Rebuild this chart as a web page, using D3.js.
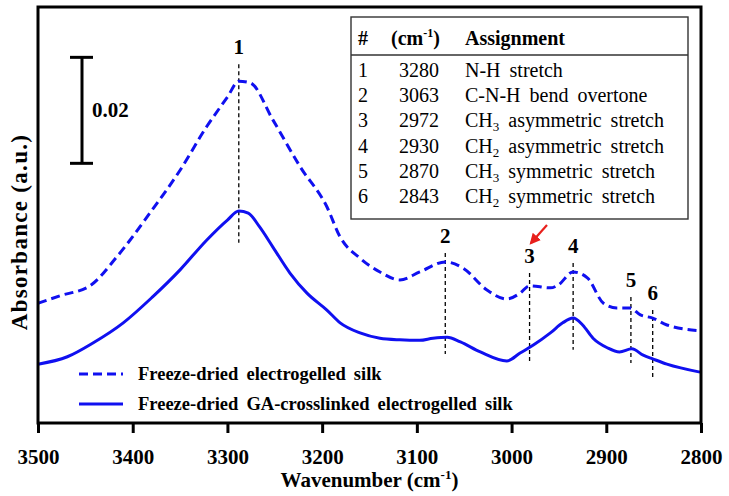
<!DOCTYPE html>
<html><head><meta charset="utf-8">
<script src="https://cdn.jsdelivr.net/npm/d3@7"></script>
<style>html,body{margin:0;padding:0;background:#fff;}</style>
</head>
<body><svg id="c" width="729" height="496" font-family="Liberation Serif"></svg>
<script>
// ---------- data ----------
const dashedWn = [3500,3477,3445,3417,3382,3350,3322,3300,3288,3276,3252,3223,3195,3181,3160,3139,3118,3097,3070,3051,3026,3005,2991,2981,2959,2951,2935,2920,2903,2889,2875,2864,2851,2836,2801];
const dashedAbs = [0.0226,0.0240,0.0259,0.0313,0.0396,0.0477,0.0559,0.0615,0.0645,0.0642,0.0572,0.0483,0.0408,0.0351,0.0311,0.0285,0.0270,0.0285,0.0304,0.0292,0.0251,0.0234,0.0245,0.0259,0.0255,0.0260,0.0285,0.0274,0.0226,0.0217,0.0217,0.0204,0.0198,0.0185,0.0174];
const solidWn = [3500,3469,3442,3410,3379,3350,3322,3300,3288,3278,3266,3252,3234,3216,3195,3181,3160,3139,3118,3097,3083,3068,3054,3033,3005,2991,2977,2959,2946,2935,2925,2914,2899,2886,2873,2861,2851,2836,2801];
const solidAbs = [0.0111,0.0125,0.0151,0.0189,0.0238,0.0289,0.0345,0.0383,0.0400,0.0396,0.0370,0.0332,0.0283,0.0245,0.0213,0.0189,0.0170,0.0160,0.0157,0.0156,0.0160,0.0162,0.0153,0.0134,0.0117,0.0132,0.0147,0.0170,0.0189,0.0198,0.0185,0.0160,0.0142,0.0134,0.0140,0.0128,0.0121,0.0111,0.0096];
const seriesNames = ["Freeze-dried electrogelled silk","Freeze-dried GA-crosslinked electrogelled silk"];
const peakLabels = ["1","2","3","4","5","6"];
const peakWn = [3288,3070,2981,2935,2874,2851];
const peakTop = [0.0677,0.0321,0.0283,0.0302,0.0238,0.0213];
const peakBottom = [0.0340,0.0130,0.0115,0.0138,0.0113,0.0087];
const tableNums = ["1","2","3","4","5","6"];
const tableWn = ["3280","3063","2972","2930","2870","2843"];
const tableAssign = [["N-H stretch"],["C-N-H bend overtone"],["CH","3"," asymmetric stretch"],["CH","2"," asymmetric stretch"],["CH","3"," symmetric stretch"],["CH","2"," symmetric stretch"]];
const xTicks = [3500,3400,3300,3200,3100,3000,2900,2800];
const scaleBarBase = 0.049, scaleBarSize = 0.02;

// ---------- chart ----------
const FONT = "Liberation Serif";
const svg = d3.select("#c");
const L=38,R=701,T=7,B=423;
const x = d3.scaleLinear().domain([3500,2800]).range([L,R]);
const y = d3.scaleLinear().domain([0,0.0785]).range([B,T]);
const blue = "#1010f0";
function txt(sel){ return sel.append("text").attr("font-family",FONT); }

const line = d3.line().x(d=>x(d[0])).y(d=>y(d[1])).curve(d3.curveMonotoneX);
const dashedData = dashedWn.map((w,i)=>[w,dashedAbs[i]]);
const solidData = solidWn.map((w,i)=>[w,solidAbs[i]]);

// peak marker lines
const pk = svg.append("g");
peakWn.forEach((w,i)=>{
  pk.append("line").attr("x1",x(w)).attr("x2",x(w)).attr("y1",y(peakTop[i])).attr("y2",y(peakBottom[i]))
    .attr("stroke","#000").attr("stroke-width",1.3).attr("stroke-dasharray","4,3");
  txt(pk).attr("x",x(w)).attr("y",y(peakTop[i])-10).attr("text-anchor","middle")
    .attr("font-size",21).attr("font-weight","bold").text(peakLabels[i]);
});

svg.append("path").datum(dashedData).attr("d",line).attr("fill","none").attr("stroke",blue)
  .attr("stroke-width",3).attr("stroke-dasharray","9,5");
svg.append("path").datum(solidData).attr("d",line).attr("fill","none").attr("stroke",blue)
  .attr("stroke-width",3);

// frame
svg.append("rect").attr("x",L).attr("y",T).attr("width",R-L).attr("height",B-T)
  .attr("fill","none").attr("stroke","#000").attr("stroke-width",3);

// x axis
const ax = svg.append("g").attr("transform",`translate(0,${B})`)
  .call(d3.axisBottom(x).tickValues(xTicks).tickSize(10).tickSizeOuter(0).tickFormat(d3.format("d")));
ax.attr("font-family",FONT).attr("font-size",21);
ax.select(".domain").remove();
ax.selectAll(".tick line").attr("stroke","#000").attr("stroke-width",3);
ax.selectAll(".tick text").attr("font-size",21).attr("font-weight","bold").attr("fill","#000")
  .attr("font-family",FONT).attr("dy","1.35em");

// axis titles
const xt = txt(svg).attr("x",(L+R)/2).attr("y",487).attr("text-anchor","middle")
  .attr("font-size",21).attr("font-weight","bold");
xt.append("tspan").text("Wavenumber (cm");
xt.append("tspan").attr("font-size",13).attr("dy",-8).text("-1");
xt.append("tspan").attr("dy",8).text(")");
txt(svg).attr("transform","translate(27,232) rotate(-90)").attr("text-anchor","middle")
  .attr("font-size",23).attr("font-weight","bold").attr("letter-spacing",1.3).text("Absorbance (a.u.)");

// scale bar
const sbx = 82, sy1=y(scaleBarBase), sy2=y(scaleBarBase+scaleBarSize);
const sb = svg.append("g").attr("stroke","#000").attr("stroke-width",3);
sb.append("line").attr("x1",sbx).attr("x2",sbx).attr("y1",sy1).attr("y2",sy2);
sb.append("line").attr("x1",sbx-12).attr("x2",sbx+11).attr("y1",sy1).attr("y2",sy1);
sb.append("line").attr("x1",sbx-12).attr("x2",sbx+11).attr("y1",sy2).attr("y2",sy2);
txt(svg).attr("x",92).attr("y",(sy1+sy2)/2+7).attr("font-size",21).attr("font-weight","bold")
  .text(scaleBarSize.toFixed(2));

// red arrow
svg.append("defs").append("marker").attr("id","ah").attr("viewBox","0 0 10 10").attr("refX",8).attr("refY",5)
  .attr("markerWidth",5).attr("markerHeight",5).attr("orient","auto")
  .append("path").attr("d","M0,0L10,5L0,10z").attr("fill","#e8201c");
svg.append("line").attr("x1",547).attr("y1",225).attr("x2",531).attr("y2",243)
  .attr("stroke","#e8201c").attr("stroke-width",2.2).attr("marker-end","url(#ah)");

// table
const tb = svg.append("g");
tb.append("rect").attr("x",351).attr("y",17).attr("width",337).attr("height",202)
  .attr("fill","#fff").attr("stroke","#333").attr("stroke-width",1.4);
tb.append("line").attr("x1",351).attr("x2",688).attr("y1",55).attr("y2",55).attr("stroke","#333").attr("stroke-width",1.4);
const hdr = tb.append("g").attr("font-size",20).attr("font-weight","bold");
txt(hdr).attr("x",358).attr("y",45).text("#");
const h2 = txt(hdr).attr("x",391).attr("y",45);
h2.append("tspan").text("(cm");
h2.append("tspan").attr("font-size",12).attr("dy",-8).text("-1");
h2.append("tspan").attr("dy",8).text(")");
txt(hdr).attr("x",465).attr("y",45).text("Assignment");
tableNums.forEach((n,i)=>{
  const by = 77 + i*25.2;
  txt(tb).attr("x",358).attr("y",by).attr("font-size",20).text(n);
  txt(tb).attr("x",399).attr("y",by).attr("font-size",20).text(tableWn[i]);
  const t = txt(tb).attr("x",465).attr("y",by).attr("font-size",20).attr("word-spacing",4);
  const parts = tableAssign[i];
  t.append("tspan").text(parts[0]);
  if(parts.length>1){
    t.append("tspan").attr("font-size",13).attr("dy",4).text(parts[1]);
    t.append("tspan").attr("dy",-4).text(parts[2]);
  }
});

// legend
const lg = svg.append("g");
[374,404].forEach((ly,i)=>{
  lg.append("line").attr("x1",79).attr("x2",123).attr("y1",ly).attr("y2",ly).attr("stroke",blue)
    .attr("stroke-width",3).attr("stroke-dasharray",i===0?"9,5":null);
  txt(lg).attr("x",138).attr("y",ly+6).attr("font-size",18.5).attr("font-weight","bold")
    .attr("word-spacing",3.5).text(seriesNames[i]);
});
</script></body></html>
